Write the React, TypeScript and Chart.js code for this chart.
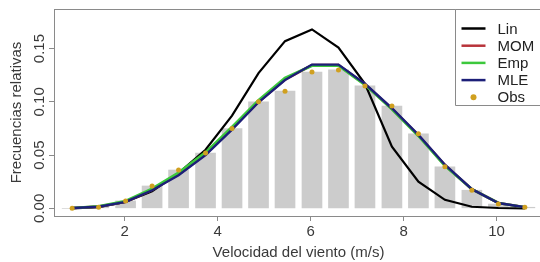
import React, { useEffect, useRef } from "react";
import { Chart, registerables } from "chart.js";

Chart.register(...registerables);

// ---- data ----
const speeds = [0.87, 1.44, 2.02, 2.59, 3.16, 3.74, 4.31, 4.88, 5.45, 6.03, 6.6, 7.17, 7.75, 8.32, 8.89, 9.47, 10.04, 10.61];
const obs = [0.0, 0.001, 0.007, 0.021, 0.036, 0.052, 0.075, 0.1, 0.11, 0.128, 0.13, 0.115, 0.096, 0.07, 0.039, 0.017, 0.004, 0.001];
const lin = [0.0, 0.001, 0.006, 0.016, 0.033, 0.055, 0.087, 0.127, 0.157, 0.168, 0.151, 0.117, 0.058, 0.025, 0.008, 0.0015, 0.0003, 0.0];
const mom = [0.0003, 0.0016, 0.0062, 0.0175, 0.032, 0.051, 0.075, 0.1, 0.121, 0.1345, 0.1345, 0.1165, 0.0935, 0.0685, 0.0405, 0.018, 0.005, 0.001];
const emp = [0.0003, 0.0018, 0.0068, 0.0185, 0.0335, 0.0525, 0.0765, 0.1015, 0.1225, 0.134, 0.134, 0.116, 0.093, 0.068, 0.04, 0.018, 0.005, 0.001];
const mle = [0.0003, 0.0015, 0.006, 0.017, 0.031, 0.05, 0.074, 0.0996, 0.1205, 0.135, 0.135, 0.117, 0.094, 0.069, 0.041, 0.018, 0.005, 0.001];
const xTicks = [2, 4, 6, 8, 10];
const yTicks = [0, 0.05, 0.1, 0.15];
const seriesNames = ["Lin", "MOM", "Emp", "MLE", "Obs"];
const seriesColors = ["#000000", "#b8333a", "#3cc83c", "#1c1f78", "#d0a020"];
const xTitle = "Velocidad del viento (m/s)";
const yTitle = "Frecuencias relativas";

const FONT = '"Liberation Sans", Arial, sans-serif';
const AXIS_GRAY = "#8a8a8a";
const TEXT = "#3a3a3a";

const pts = (vals: number[]) => speeds.map((x, i) => ({ x, y: vals[i] }));

const boxLegend = {
  id: "boxLegend",
  afterDraw(chart: any) {
    const { ctx, chartArea, width } = chart;
    ctx.save();
    // top border of the plot box
    ctx.strokeStyle = AXIS_GRAY;
    ctx.lineWidth = 1;
    ctx.beginPath();
    ctx.moveTo(chartArea.left, chartArea.top + 0.5);
    ctx.lineTo(width + 20, chartArea.top + 0.5);
    ctx.stroke();

    const h = 96;
    const left = Math.round(chartArea.right - 88) + 0.5;
    const top = Math.round(chartArea.top) + 0.5;
    const farRight = width + 20;
    ctx.fillStyle = "#ffffff";
    ctx.fillRect(left, top, farRight - left, h);
    ctx.beginPath();
    ctx.moveTo(farRight, top);
    ctx.lineTo(left, top);
    ctx.lineTo(left, top + h);
    ctx.lineTo(farRight, top + h);
    ctx.stroke();

    const items = chart.data.datasets.filter((d: any) => d.legendKind);
    ctx.font = `15px ${FONT}`;
    ctx.textBaseline = "middle";
    ctx.textAlign = "left";
    items.forEach((d: any, i: number) => {
      const cy = top + 19 + i * 17.2;
      if (d.legendKind === "line") {
        ctx.strokeStyle = d.borderColor;
        ctx.lineWidth = 2.5;
        ctx.beginPath();
        ctx.moveTo(left + 6, cy);
        ctx.lineTo(left + 30, cy);
        ctx.stroke();
      } else {
        ctx.fillStyle = d.backgroundColor;
        ctx.beginPath();
        ctx.arc(left + 18, cy, 3, 0, Math.PI * 2);
        ctx.fill();
      }
      ctx.fillStyle = "#222";
      ctx.fillText(d.label, left + 42, cy + 1);
    });
    ctx.restore();
  },
};

export default function App() {
  const ref = useRef<HTMLCanvasElement | null>(null);

  useEffect(() => {
    if (!ref.current) return;
    const lineSets = [lin, mom, emp, mle].map((vals, i) => ({
      type: "line" as const,
      label: seriesNames[i],
      legendKind: "line",
      data: pts(vals),
      borderColor: seriesColors[i],
      backgroundColor: seriesColors[i],
      borderWidth: i === 0 ? 2.2 : i === 3 ? 2.4 : 2.7,
      pointRadius: 0,
      tension: 0,
      fill: false,
      order: 5 - i,
    }));
    const chart = new Chart(ref.current, {
      type: "line",
      data: {
        datasets: [
          ...lineSets,
          {
            type: "scatter" as const,
            label: seriesNames[4],
            legendKind: "point",
            data: pts(obs),
            backgroundColor: seriesColors[4],
            borderColor: seriesColors[4],
            borderWidth: 0,
            pointRadius: 2.5,
            showLine: false,
            order: 0,
          } as any,
          {
            type: "bar" as const,
            label: "bars",
            data: pts(obs),
            backgroundColor: "#cccccc",
            borderWidth: 0,
            barThickness: 20,
            order: 10,
          } as any,
        ],
      },
      options: {
        responsive: false,
        animation: false,
        devicePixelRatio: 1,
        layout: { padding: { top: 9, right: 5, left: 0, bottom: 0 } },
        plugins: { legend: { display: false }, tooltip: { enabled: false } },
        scales: {
          x: {
            type: "linear",
            min: 0.48,
            max: 11.0,
            offset: false,
            afterBuildTicks: (s: any) => {
              s.ticks = xTicks.map((v) => ({ value: v }));
            },
            afterFit: (s: any) => {
              s.height = 46;
            },
            ticks: {
              autoSkip: false,
              maxRotation: 0,
              minRotation: 0,
              padding: 2,
              color: TEXT,
              font: { family: FONT, size: 15 },
              callback: (v: any) => String(v),
            },
            grid: { display: true, drawOnChartArea: false, drawTicks: true, tickLength: 5, color: AXIS_GRAY, offset: false },
            border: { display: true, color: AXIS_GRAY, width: 1 },
            title: {
              display: true,
              text: xTitle,
              color: TEXT,
              font: { family: FONT, size: 15 },
              padding: { top: 0, bottom: 0 },
            },
          },
          y: {
            type: "linear",
            min: -0.0072,
            max: 0.1872,
            afterBuildTicks: (s: any) => {
              s.ticks = yTicks.map((v) => ({ value: v }));
            },
            afterFit: (s: any) => {
              s.width = 54;
            },
            ticks: {
              autoSkip: false,
              minRotation: 90,
              maxRotation: 90,
              crossAlign: "center",
              padding: -5,
              color: TEXT,
              font: { family: FONT, size: 15 },
              callback: (v: any) => Number(v).toFixed(2),
            },
            grid: { display: true, drawOnChartArea: false, drawTicks: true, tickLength: 5, color: AXIS_GRAY },
            border: { display: true, color: AXIS_GRAY, width: 1 },
            title: {
              display: true,
              text: yTitle,
              color: TEXT,
              font: { family: FONT, size: 15 },
              padding: { top: 8, bottom: 0 },
            },
          },
        },
      } as any,
      plugins: [boxLegend],
    });
    return () => chart.destroy();
  }, []);

  return (
    <div
      style={{
        position: "fixed",
        left: 0,
        top: 0,
        width: 540,
        height: 262,
        overflow: "hidden",
        background: "#ffffff",
      }}
    >
      <canvas ref={ref} width={548} height={262} style={{ display: "block", width: 548, height: 262 }} />
    </div>
  );
}
